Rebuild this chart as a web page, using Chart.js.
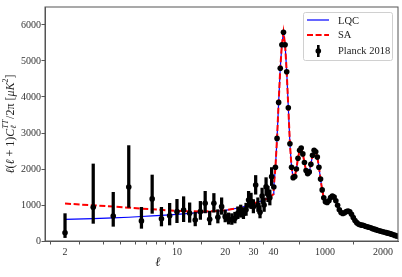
<!DOCTYPE html>
<html>
<head>
<meta charset="utf-8">
<script src="https://cdn.jsdelivr.net/npm/chart.js@4.4.0/dist/chart.umd.min.js"></script>
<style>
  html, body { margin: 0; padding: 0; background: #fff; }
  #cmb { display: block; }
</style>
</head>
<body>
<canvas id="cmb" width="402" height="277"></canvas>
<script>
// Planck 2018 low-l (unbinned) points with asymmetric errors
const lowEll = [2, 3, 4, 5, 6, 7, 8, 9, 10, 11, 12, 13, 14, 15, 16, 17, 18, 19, 20,
    21, 22, 23, 24, 25, 26, 27, 28, 29, 30, 31, 32, 33, 34, 35, 36, 37, 38, 39];
const lowD = [226, 937, 692, 1501, 558, 1170, 619, 698, 815, 861, 769, 583, 815, 1046, 602, 1046, 657, 954, 676,
    602, 583, 630, 769, 815, 760, 870, 1139, 1100, 950, 1556, 1000, 800, 1250, 1000, 1509, 1300, 1200, 1787];
const lowLo = [95, 490, 408, 935, 352, 768, 417, 444, 509, 537, 520, 420, 600, 780, 450, 800, 500, 740, 530,
    470, 460, 500, 620, 660, 620, 710, 930, 900, 780, 1300, 820, 640, 1040, 820, 1270, 1090, 1000, 1540];
const lowHi = [760, 2140, 1352, 2650, 935, 1833, 935, 1046, 1157, 1231, 1060, 800, 1100, 1380, 830, 1320, 870, 1200, 860,
    780, 760, 800, 950, 1000, 930, 1050, 1380, 1330, 1150, 1820, 1200, 980, 1470, 1200, 1760, 1520, 1420, 2040];

// Planck 2018 binned high-l points
const binEll = [47.7, 77.7, 107.7, 137.7, 167.7, 197.7, 227.7, 257.7, 287.7, 317.7, 347.7, 377.7, 407.7, 437.7,
    467.7, 497.7, 527.7, 557.7, 587.7, 617.7, 647.7, 677.7, 707.7, 737.7, 767.7, 797.7, 827.7, 857.7, 887.7,
    917.7, 947.7, 977.7, 1007.7, 1037.7, 1067.7, 1097.7, 1127.7, 1157.7, 1187.7, 1217.7, 1247.7, 1277.7,
    1307.7, 1337.7, 1367.7, 1397.7, 1427.7, 1457.7, 1487.7, 1517.7, 1547.7, 1577.7, 1607.7, 1637.7, 1667.7,
    1697.7, 1727.7, 1757.7, 1787.7, 1817.7, 1847.7, 1877.7, 1907.7, 1937.7, 1967.7, 1997.7, 2027.7, 2057.7,
    2087.7, 2117.7, 2147.7, 2177.7, 2207.7, 2237.7, 2267.7, 2297.7];
const binD = [1500, 2050, 2850, 3850, 4800, 5450, 5800, 5450, 4700, 3700, 2700, 2050, 1760, 1790,
    2000, 2300, 2520, 2580, 2420, 2180, 1960, 1870, 1920, 2130, 2380, 2520, 2480, 2330, 2050,
    1720, 1420, 1200, 1090, 1070, 1120, 1210, 1250, 1220, 1120, 990, 870, 790,
    765, 785, 820, 835, 810, 740, 650, 570, 510, 470, 450, 440, 430,
    410, 395, 380, 365, 345, 330, 315, 300, 285, 270, 258, 245, 232,
    218, 205, 190, 172, 155, 140, 125, 110];

// model curves
const modelEll = [2, 3, 4, 5, 6, 7, 8, 10, 12, 14, 16, 18, 20, 25, 30, 35, 38, 40,
    47.7, 77.7, 107.7, 137.7, 167.7, 197.7, 227.7, 257.7, 287.7, 317.7, 347.7, 377.7, 407.7, 437.7,
    467.7, 497.7, 527.7, 557.7, 587.7, 617.7, 647.7, 677.7, 707.7, 737.7, 767.7, 797.7, 827.7, 857.7, 887.7,
    917.7, 947.7, 977.7, 1007.7, 1067.7, 1127.7, 1187.7, 1247.7, 1307.7, 1367.7, 1427.7, 1487.7, 1547.7,
    1607.7, 1667.7, 1727.7, 1787.7, 1847.7, 1907.7, 1967.7, 2027.7, 2087.7, 2147.7, 2207.7, 2267.7];
const highModel = [1500, 2050, 2850, 3850, 4800, 5450, 5800, 5450, 4700, 3700, 2700, 2050, 1760, 1790,
    2000, 2300, 2520, 2580, 2420, 2180, 1960, 1870, 1920, 2130, 2380, 2520, 2480, 2330, 2050,
    1720, 1420, 1200, 1090, 1120, 1250, 1120, 870, 765, 820, 810, 650, 510,
    450, 430, 395, 365, 330, 300, 270, 245, 218, 190, 155, 125];
const lqcLow = [600, 620, 640, 660, 680, 697, 712, 740, 770, 795, 815, 830, 850, 930, 1040, 1140, 1220, 1300];
const saLow = [1040, 990, 955, 925, 900, 880, 865, 835, 825, 822, 825, 835, 855, 930, 1040, 1140, 1220, 1300];
const lqcD = lqcLow.concat(highModel);
const saD = saLow.concat(highModel);

const xTickEll = [2, 3, 4, 5, 6, 7, 8, 9, 10, 20, 30, 40, 1000, 2000];
const xTickLabels = { 2: '2', 10: '10', 20: '20', 30: '30', 40: '40', 1000: '1000', 2000: '2000' };
const yTicks = [0, 1000, 2000, 3000, 4000, 5000, 6000];

// hybrid l axis: log up to 40, linear after
const LOG40 = Math.log10(40);
const K1 = 0.322 / 960;
const K2 = 0.362 / 1000;
function xPos(l) {
    if (l <= 40) return Math.log10(l);
    if (l <= 1000) return LOG40 + (l - 40) * K1;
    return LOG40 + 960 * K1 + (l - 1000) * K2;
}

const SERIF = '"Liberation Serif", "DejaVu Serif", serif';
const AXIS = '#555';

const pts = (xs, ys) => xs.map((l, i) => ({ x: xPos(l), y: ys[i] }));

// frame, axis titles and legend
const decorPlugin = {
    id: 'decor',
    afterDraw(chart) {
        const ctx = chart.ctx;
        const a = chart.chartArea;
        ctx.save();
        ctx.strokeStyle = AXIS;
        ctx.lineWidth = 1;
        ctx.strokeRect(a.left, a.top, a.right - a.left, a.bottom - a.top);

        // x title
        ctx.fillStyle = '#222';
        ctx.font = 'italic 13px "DejaVu Serif", serif';
        ctx.textAlign = 'center';
        ctx.textBaseline = 'middle';
        ctx.fillText('ℓ', 158, 263);

        // y title, rotated
        const runs = [
            { t: 'ℓ', s: 12, it: true, dy: 0 },
            { t: '(', s: 12, it: false, dy: 0 },
            { t: 'ℓ', s: 12, it: true, dy: 0 },
            { t: ' + 1)', s: 12, it: false, dy: 0 },
            { t: 'C', s: 12, it: true, dy: 0 },
            { t: 'ℓ', s: 8, it: true, dy: 3, sup: 'TT' },
            { t: '/2π [', s: 12, it: false, dy: 0 },
            { t: 'μK', s: 12, it: true, dy: 0 },
            { t: '2', s: 8, it: false, dy: -5 },
            { t: ']', s: 12, it: false, dy: 0 }
        ];
        const fontOf = r => (r.it ? 'italic ' : '') + r.s + 'px ' + SERIF;
        let total = 0;
        runs.forEach(r => {
            ctx.font = fontOf(r);
            let w = ctx.measureText(r.t).width;
            if (r.sup) { ctx.font = 'italic 8px ' + SERIF; w = Math.max(w, ctx.measureText(r.sup).width); }
            r.w = w + (r.sup ? 1 : 0);
            total += r.w;
        });
        ctx.translate(11, (a.top + a.bottom) / 2);
        ctx.rotate(-Math.PI / 2);
        ctx.textAlign = 'left';
        ctx.textBaseline = 'middle';
        let x = -total / 2;
        runs.forEach(r => {
            ctx.font = fontOf(r);
            ctx.fillText(r.t, x, r.dy);
            if (r.sup) {
                ctx.font = 'italic 8px ' + SERIF;
                ctx.fillText(r.sup, x, -5);
            }
            x += r.w;
        });
        ctx.restore();

        // legend
        ctx.save();
        ctx.fillStyle = 'rgba(255,255,255,0.85)';
        ctx.strokeStyle = '#d0d0d0';
        ctx.lineWidth = 1;
        ctx.beginPath();
        ctx.roundRect(303.5, 12.5, 89, 48, 2);
        ctx.fill();
        ctx.stroke();
        ctx.font = '10.5px ' + SERIF;
        ctx.fillStyle = '#222';
        ctx.textBaseline = 'middle';
        ctx.textAlign = 'left';
        ctx.strokeStyle = '#0000ff';
        ctx.lineWidth = 1.2;
        ctx.beginPath(); ctx.moveTo(307, 20); ctx.lineTo(329, 20); ctx.stroke();
        ctx.fillText('LQC', 338, 21);
        ctx.strokeStyle = '#ff0000';
        ctx.lineWidth = 2;
        ctx.setLineDash([6, 2.6]);
        ctx.beginPath(); ctx.moveTo(307, 35); ctx.lineTo(329, 35); ctx.stroke();
        ctx.setLineDash([]);
        ctx.fillText('SA', 338, 35);
        ctx.fillStyle = '#000';
        ctx.fillRect(317, 45, 2.6, 12);
        ctx.beginPath(); ctx.arc(318.3, 51, 2.8, 0, Math.PI * 2); ctx.fill();
        ctx.fillStyle = '#222';
        ctx.fillText('Planck 2018', 338, 51);
        ctx.restore();
    }
};

new Chart(document.getElementById('cmb'), {
    type: 'scatter',
    data: {
        datasets: [
            {
                label: 'Planck 2018',
                data: pts(binEll, binD),
                backgroundColor: '#000',
                borderWidth: 0,
                pointRadius: 2.8,
                clip: 0
            },
            {
                label: 'Planck 2018 low-l',
                data: pts(lowEll, lowD),
                backgroundColor: '#000',
                borderWidth: 0,
                pointRadius: 2.8,
                clip: 0
            },
            {
                type: 'bar',
                label: 'errors',
                data: lowEll.map((l, i) => ({ x: xPos(l), y: [lowLo[i], lowHi[i]] })),
                backgroundColor: '#000',
                barThickness: 2.6,
                clip: 0
            },
            {
                type: 'line',
                label: 'SA',
                data: pts(modelEll, saD),
                borderColor: '#ff0000',
                borderWidth: 2,
                borderDash: [6, 2.6],
                pointRadius: 0,
                fill: false,
                clip: 0
            },
            {
                type: 'line',
                label: 'LQC',
                data: pts(modelEll, lqcD),
                borderColor: '#0000ff',
                borderWidth: 1.2,
                pointRadius: 0,
                fill: false,
                clip: 0
            }
        ]
    },
    options: {
        responsive: false,
        animation: false,
        devicePixelRatio: 1,
        layout: { padding: { top: 7, right: 4, left: 0, bottom: 0 } },
        plugins: { legend: { display: false }, tooltip: { enabled: false } },
        scales: {
            x: {
                type: 'linear',
                min: 0.176,
                max: 2.38,
                offset: false,
                afterBuildTicks: s => { s.ticks = xTickEll.map(l => ({ value: xPos(l) })); },
                afterFit: s => { s.height = 36; },
                ticks: {
                    autoSkip: false,
                    maxRotation: 0,
                    padding: 1.5,
                    color: '#333',
                    font: { family: SERIF, size: 10 },
                    callback: (v, i) => xTickLabels[xTickEll[i]] || ''
                },
                grid: { display: true, drawOnChartArea: false, tickLength: 3.5, tickColor: AXIS },
                border: { display: true, color: AXIS, width: 1 }
            },
            y: {
                min: 0,
                max: 6500,
                afterBuildTicks: s => { s.ticks = yTicks.map(v => ({ value: v })); },
                afterFit: s => { s.width = 45; },
                ticks: {
                    padding: 0.5,
                    color: '#333',
                    font: { family: SERIF, size: 10 },
                    callback: v => String(v)
                },
                grid: { display: true, drawOnChartArea: false, tickLength: 3.5, tickColor: AXIS },
                border: { display: true, color: AXIS, width: 1 }
            }
        }
    },
    plugins: [decorPlugin]
});
</script>
</body>
</html>
